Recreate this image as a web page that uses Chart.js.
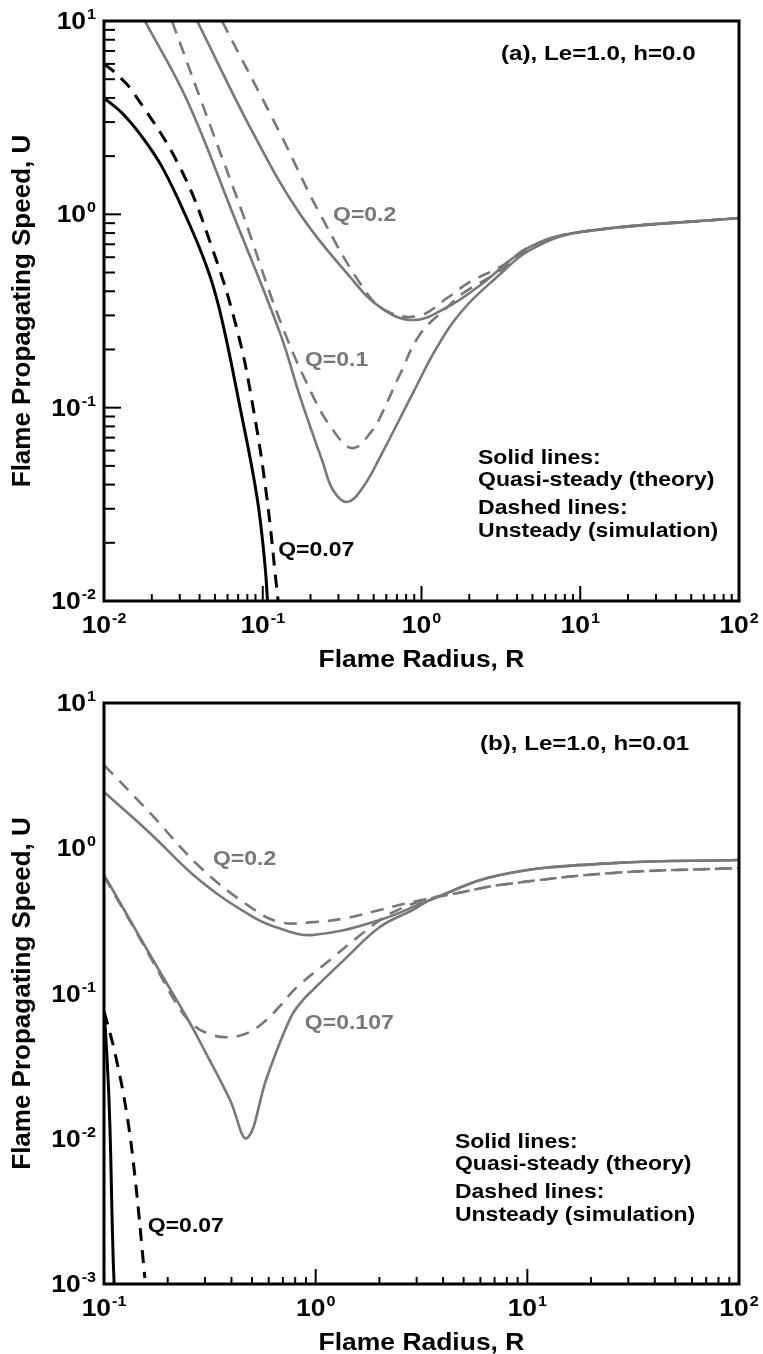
<!DOCTYPE html>
<html>
<head>
<meta charset="utf-8">
<script src="https://cdn.jsdelivr.net/npm/chart.js@4.4.1/dist/chart.umd.min.js"></script>
<style>
body { margin: 0; background: #fff; }
canvas { display: block; }
</style>
</head>
<body>
<canvas id="chart-a" width="763" height="677"></canvas>
<canvas id="chart-b" width="763" height="677"></canvas>
<script>
// panel (a): Le=1.0, h=0.0   (R = flame radius, U = propagating speed)
var a_q007_solid_R = [0.01, 0.013, 0.0176, 0.0232, 0.0324, 0.0446, 0.054, 0.072, 0.092, 0.103, 0.108]
var a_q007_solid_U = [4.0, 3.34, 2.48, 1.76, 1.0, 0.53, 0.31, 0.1, 0.0345, 0.0157, 0.009]
var a_q007_dash_R = [0.01, 0.012, 0.0152, 0.030, 0.0486, 0.0698, 0.087, 0.106, 0.125, 0.13]
var a_q007_dash_U = [6.0, 5.32, 4.3, 1.76, 0.65, 0.243, 0.1, 0.0345, 0.01, 0.008]
var a_q01_solid_R = [0.0181, 0.0333, 0.065, 0.1285, 0.172, 0.24, 0.277, 0.34, 0.428, 0.548, 0.883, 1.25, 1.82, 2.99, 4.82, 10, 100]
var a_q01_solid_U = [10, 3.9, 1.0, 0.243, 0.1135, 0.0516, 0.0375, 0.0325, 0.0388, 0.0555, 0.119, 0.205, 0.32, 0.474, 0.653, 0.81, 0.957]
var a_q01_dash_R = [0.0268, 0.0486, 0.075, 0.128, 0.199, 0.277, 0.37, 0.495, 0.548, 0.73, 0.98, 1.45, 1.82, 2.99, 4.82, 10, 100]
var a_q01_dash_U = [10, 2.63, 1.0, 0.284, 0.123, 0.0766, 0.0618, 0.077, 0.089, 0.148, 0.24, 0.33, 0.39, 0.50, 0.665, 0.81, 0.957]
var a_q02_solid_R = [0.0386, 0.087, 0.172, 0.355, 0.548, 0.883, 1.45, 2.34, 4.82, 10, 100]
var a_q02_solid_U = [10, 2.63, 1.0, 0.474, 0.331, 0.284, 0.331, 0.43, 0.678, 0.81, 0.957]
var a_q02_dash_R = [0.0553, 0.1285, 0.23, 0.454, 0.634, 0.98, 1.45, 2.02, 3.2, 4.82, 10, 100]
var a_q02_dash_U = [10, 2.63, 1.0, 0.39, 0.31, 0.30, 0.369, 0.447, 0.54, 0.68, 0.81, 0.957]

// panel (b): Le=1.0, h=0.01
var b_q007_solid_R = [0.1, 0.102, 0.104, 0.1056, 0.1075, 0.1087, 0.1105, 0.112]
var b_q007_solid_U = [0.075, 0.05, 0.03, 0.0185, 0.008, 0.0038, 0.0015, 0.0009]
var b_q007_dash_R = [0.1, 0.102, 0.1127, 0.128, 0.14, 0.156]
var b_q007_dash_U = [0.075, 0.068, 0.0389, 0.015, 0.0055, 0.0011]
var b_q0107_solid_R = [0.1, 0.137, 0.184, 0.247, 0.30, 0.394, 0.473, 0.589, 0.76, 0.87, 0.971, 1.406, 2.01, 2.88, 3.47, 7.43, 25.4, 100]
var b_q0107_solid_U = [0.655, 0.296, 0.1406, 0.0678, 0.04, 0.0185, 0.0101, 0.0266, 0.068, 0.09, 0.106, 0.178, 0.287, 0.376, 0.44, 0.655, 0.79, 0.83]
var b_q0107_dash_R = [0.1, 0.137, 0.184, 0.22, 0.26, 0.31, 0.381, 0.47, 0.563, 0.678, 0.817, 1.168, 1.673, 2.3, 3.47, 4.97, 7.43, 25.4, 100]
var b_q0107_dash_U = [0.64, 0.29, 0.135, 0.085, 0.062, 0.053, 0.05, 0.053, 0.0627, 0.082, 0.111, 0.170, 0.261, 0.36, 0.451, 0.50, 0.559, 0.676, 0.73]
var b_q02_solid_R = [0.1, 0.165, 0.284, 0.5, 0.678, 0.971, 2.01, 3.47, 7.43, 25.4, 100]
var b_q02_solid_U = [2.44, 1.27, 0.60, 0.34, 0.28, 0.253, 0.321, 0.44, 0.655, 0.79, 0.83]
var b_q02_dash_R = [0.1, 0.165, 0.284, 0.49, 0.678, 0.971, 1.406, 2.01, 2.88, 4.97, 7.43, 25.4, 100]
var b_q02_dash_U = [3.74, 1.75, 0.743, 0.395, 0.31, 0.31, 0.331, 0.376, 0.427, 0.50, 0.559, 0.676, 0.73]

// axis decades (tick labels are 10^exp)
var a_xExp = [-2, -1, 0, 1, 2]
var a_yExp = [-2, -1, 0, 1]
var b_xExp = [-1, 0, 1, 2]
var b_yExp = [-3, -2, -1, 0, 1]

var legendLines = ['Solid lines:', 'Quasi-steady (theory)', 'Dashed lines:', 'Unsteady (simulation)']

const GRAY = '#787878'
const FONT = '"Liberation Sans", Arial, sans-serif'
const SX = 1.15   // text in the figure is a bit wide

function drawText(ctx, s, x, y, font, color, align, sx) {
    sx = sx || SX
    ctx.save()
    ctx.font = font
    ctx.fillStyle = color
    ctx.textBaseline = 'alphabetic'
    ctx.textAlign = 'left'
    var w = ctx.measureText(s).width * sx
    var x0 = x
    if (align === 'center') x0 = x - w / 2
    else if (align === 'right') x0 = x - w
    ctx.translate(x0, y)
    ctx.scale(sx, 1)
    ctx.fillText(s, 0, 0)
    ctx.restore()
    return w
}

function drawPow(ctx, exp, x, y, align) {
    var base = 'bold 23px ' + FONT
    var sup = 'bold 14px ' + FONT
    ctx.font = base
    var w1 = ctx.measureText('10').width * SX
    ctx.font = sup
    var w2 = ctx.measureText(String(exp)).width * SX
    var total = w1 + 1 + w2
    var x0 = align === 'center' ? x - total / 2 : x - total
    drawText(ctx, '10', x0, y, base, '#000', 'left')
    drawText(ctx, String(exp), x0 + w1 + 1, y - 10, sup, '#000', 'left')
}

function series(R, U, color, dashed) {
    return {
        data: R.map(function(r, i) { return { x: r, y: U[i] } }),
        borderColor: color,
        borderWidth: color === GRAY ? 2.6 : 3,
        borderDash: dashed ? [13, 9] : [],
        pointRadius: 0,
        fill: false,
        tension: 0.4
    }
}

function decoPlugin(cfg) {
    return {
        id: 'deco',
        afterDatasetsDraw: function(chart) {
            var ctx = chart.ctx
            var area = chart.chartArea
            var xs = chart.scales.x, ys = chart.scales.y
            ctx.save()
            ctx.strokeStyle = '#000'
            ctx.lineWidth = 2
            function seg(x1, y1, x2, y2) {
                ctx.beginPath(); ctx.moveTo(x1, y1); ctx.lineTo(x2, y2); ctx.stroke()
            }
            // bottom ticks, pointing inward
            for (var i = 0; i < cfg.xExp.length; i++) {
                var e = cfg.xExp[i]
                var px = xs.getPixelForValue(Math.pow(10, e))
                seg(px, area.bottom, px, area.bottom - 15)
                if (i < cfg.xExp.length - 1) {
                    for (var m = 2; m <= 9; m++) {
                        var p = xs.getPixelForValue(m * Math.pow(10, e))
                        seg(p, area.bottom, p, area.bottom - 7)
                    }
                }
            }
            // left ticks
            if (cfg.yTicks) {
                for (var j = 0; j < cfg.yExp.length; j++) {
                    var ey = cfg.yExp[j]
                    var py = ys.getPixelForValue(Math.pow(10, ey))
                    seg(area.left, py, area.left + 17, py)
                    if (j < cfg.yExp.length - 1) {
                        for (var k = 2; k <= 9; k++) {
                            var q = ys.getPixelForValue(k * Math.pow(10, ey))
                            seg(area.left, q, area.left + 11, q)
                        }
                    }
                }
            }
            // frame
            ctx.lineWidth = 3
            ctx.strokeRect(area.left, area.top, area.right - area.left, area.bottom - area.top)
            ctx.restore()

            // tick labels
            cfg.xExp.forEach(function(e) {
                drawPow(ctx, e, xs.getPixelForValue(Math.pow(10, e)), area.bottom + 32, 'center')
            })
            cfg.yExp.forEach(function(e) {
                drawPow(ctx, e, area.left - 8, ys.getPixelForValue(Math.pow(10, e)) + 8, 'right')
            })

            // axis titles
            drawText(ctx, 'Flame Radius, R', (area.left + area.right) / 2, area.bottom + 66, 'bold 23px ' + FONT, '#000', 'center')
            ctx.save()
            ctx.translate(30, (area.top + area.bottom) / 2)
            ctx.rotate(-Math.PI / 2)
            drawText(ctx, 'Flame Propagating Speed, U', 0, 0, 'bold 26px ' + FONT, '#000', 'center', 1)
            ctx.restore()

            // annotations, anchored in data coordinates
            cfg.notes.forEach(function(n) {
                drawText(ctx, n.text, xs.getPixelForValue(n.R), ys.getPixelForValue(n.U), n.font, n.color, 'left')
            })
        }
    }
}

function makeChart(id, datasets, xr, yr, pad, cfg) {
    return new Chart(document.getElementById(id), {
        type: 'line',
        data: { datasets: datasets },
        options: {
            responsive: false,
            animation: false,
            devicePixelRatio: 1,
            layout: { padding: pad },
            scales: {
                x: { type: 'logarithmic', min: xr[0], max: xr[1], display: false },
                y: { type: 'logarithmic', min: yr[0], max: yr[1], display: false }
            },
            plugins: {
                legend: { display: false },
                tooltip: { enabled: false }
            }
        },
        plugins: [decoPlugin(cfg)]
    })
}

var qFont = 'bold 20px ' + FONT
var noteFont = 'bold 21px ' + FONT
var legFont = 'bold 20px ' + FONT

makeChart('chart-a', [
    series(a_q007_solid_R, a_q007_solid_U, '#000', false),
    series(a_q007_dash_R, a_q007_dash_U, '#000', true),
    series(a_q01_solid_R, a_q01_solid_U, GRAY, false),
    series(a_q01_dash_R, a_q01_dash_U, GRAY, true),
    series(a_q02_solid_R, a_q02_solid_U, GRAY, false),
    series(a_q02_dash_R, a_q02_dash_U, GRAY, true)
], [0.01, 100], [0.01, 10], { left: 104, right: 24, top: 21, bottom: 76 }, {
    xExp: a_xExp, yExp: a_yExp, yTicks: true,
    notes: [
        { text: '(a), Le=1.0, h=0.0', R: 3.17, U: 6.29, font: noteFont, color: '#000' },
        { text: 'Q=0.2', R: 0.277, U: 0.923, font: qFont, color: GRAY },
        { text: 'Q=0.1', R: 0.1845, U: 0.164, font: qFont, color: GRAY },
        { text: 'Q=0.07', R: 0.125, U: 0.0171, font: qFont, color: '#000' },
        { text: legendLines[0], R: 2.27, U: 0.051, font: legFont, color: '#000' },
        { text: legendLines[1], R: 2.27, U: 0.0393, font: legFont, color: '#000' },
        { text: legendLines[2], R: 2.27, U: 0.0282, font: legFont, color: '#000' },
        { text: legendLines[3], R: 2.27, U: 0.0214, font: legFont, color: '#000' }
    ]
})

makeChart('chart-b', [
    series(b_q007_solid_R, b_q007_solid_U, '#000', false),
    series(b_q007_dash_R, b_q007_dash_U, '#000', true),
    series(b_q0107_solid_R, b_q0107_solid_U, GRAY, false),
    series(b_q0107_dash_R, b_q0107_dash_U, GRAY, true),
    series(b_q02_solid_R, b_q02_solid_U, GRAY, false),
    series(b_q02_dash_R, b_q02_dash_U, GRAY, true)
], [0.1, 100], [0.001, 10], { left: 104, right: 24, top: 26, bottom: 70 }, {
    xExp: b_xExp, yExp: b_yExp, yTicks: false,
    notes: [
        { text: '(b), Le=1.0, h=0.01', R: 5.97, U: 4.75, font: noteFont, color: '#000' },
        { text: 'Q=0.2', R: 0.327, U: 0.767, font: qFont, color: GRAY },
        { text: 'Q=0.107', R: 0.889, U: 0.057, font: qFont, color: GRAY },
        { text: 'Q=0.07', R: 0.161, U: 0.00228, font: qFont, color: '#000' },
        { text: legendLines[0], R: 4.55, U: 0.00863, font: legFont, color: '#000' },
        { text: legendLines[1], R: 4.55, U: 0.0061, font: legFont, color: '#000' },
        { text: legendLines[2], R: 4.55, U: 0.00391, font: legFont, color: '#000' },
        { text: legendLines[3], R: 4.55, U: 0.00272, font: legFont, color: '#000' }
    ]
})
</script>
</body>
</html>
